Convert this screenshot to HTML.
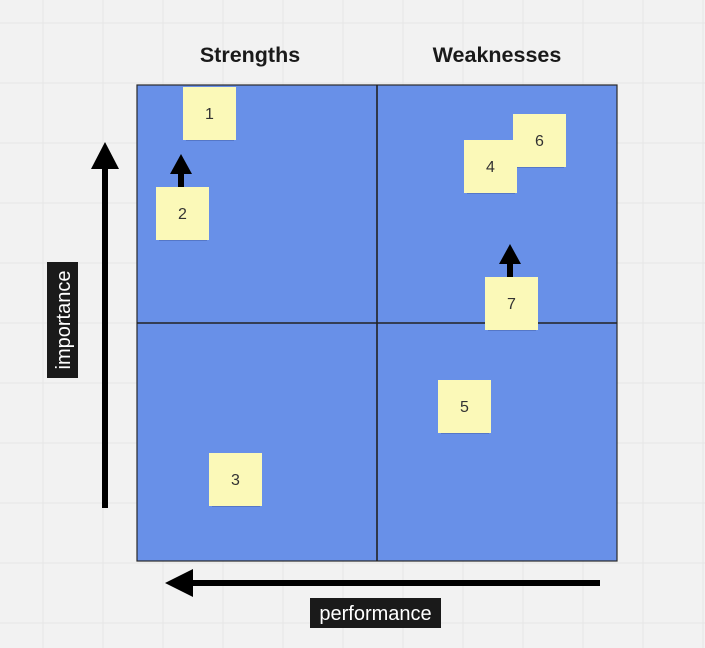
<!DOCTYPE html>
<html><head><meta charset="utf-8"><style>
html,body{margin:0;padding:0;width:705px;height:648px;overflow:hidden;background:#f2f2f2}
svg{display:block}
text{font-family:"Liberation Sans","DejaVu Sans",sans-serif}
</style></head><body>
<svg id="board" width="705" height="648" viewBox="0 0 705 648" xmlns="http://www.w3.org/2000/svg">
<g id="grid"></g>
<text x="250" y="62" text-anchor="middle" font-size="21.5" font-weight="bold" fill="#1a1a1a">Strengths</text>
<text x="497" y="62" text-anchor="middle" font-size="21.5" font-weight="bold" fill="#1a1a1a">Weaknesses</text>
<rect x="137" y="85" width="480" height="476" fill="#6890e8" stroke="#2a2a2a" stroke-width="1.2"/>
<line x1="377" y1="85" x2="377" y2="561" stroke="#222" stroke-width="1.6"/>
<line x1="137" y1="323" x2="617" y2="323" stroke="#222" stroke-width="1.6"/>
<g>
<rect x="102" y="166" width="6" height="342" fill="#000"/>
<polygon points="105,142 91,169 119,169" fill="#000"/>
</g>
<g>
<rect x="190" y="580" width="410" height="6" fill="#000"/>
<polygon points="165,583 193,569 193,597" fill="#000"/>
</g>
<g>
<rect x="47" y="262" width="31" height="116" fill="#1a1a1a"/>
<text transform="translate(70,320) rotate(-90)" text-anchor="middle" font-size="20" fill="#fff">importance</text>
</g>
<g>
<rect x="310" y="598" width="131" height="30" fill="#1a1a1a"/>
<text x="375.5" y="620" text-anchor="middle" font-size="20" fill="#fff">performance</text>
</g>
<g id="notes"></g>
</svg>
<script>
const noteLabels=["1","2","3","6","4","7","5"];
const noteX=[183,156,209,513,464,485,438];
const noteY=[87,187,453,114,140,277,380];
const arrowNotes=["2","7"];
const NS="http://www.w3.org/2000/svg";
const grid=document.getElementById('grid');
for(let x=43;x<705;x+=60){const l=document.createElementNS(NS,'line');l.setAttribute('x1',x);l.setAttribute('x2',x);l.setAttribute('y1',0);l.setAttribute('y2',648);l.setAttribute('stroke','#e6e6e6');grid.appendChild(l);}
for(let y=23;y<648;y+=60){const l=document.createElementNS(NS,'line');l.setAttribute('y1',y);l.setAttribute('y2',y);l.setAttribute('x1',0);l.setAttribute('x2',705);l.setAttribute('stroke','#e6e6e6');grid.appendChild(l);}
const notes=document.getElementById('notes');
noteLabels.forEach((lab,i)=>{
  const g=document.createElementNS(NS,'g');
  
  
  const x=noteX[i],y=noteY[i];
  if(arrowNotes.includes(lab)){
    const cx=x+25;
    const s=document.createElementNS(NS,'rect');s.setAttribute('x',cx-3);s.setAttribute('y',y-16);s.setAttribute('width',6);s.setAttribute('height',16);s.setAttribute('fill','#000');g.appendChild(s);
    const p=document.createElementNS(NS,'polygon');p.setAttribute('points',`${cx},${y-33} ${cx-11},${y-13} ${cx+11},${y-13}`);p.setAttribute('fill','#000');g.appendChild(p);
  }
  const sh=document.createElementNS(NS,'rect');sh.setAttribute('x',x+3);sh.setAttribute('y',y+50);sh.setAttribute('width',48);sh.setAttribute('height',4);sh.setAttribute('fill','#4a68b0');sh.setAttribute('opacity','0.6');g.appendChild(sh);
  const r=document.createElementNS(NS,'rect');r.setAttribute('x',x);r.setAttribute('y',y);r.setAttribute('width',53);r.setAttribute('height',53);r.setAttribute('fill','#fbf9b8');g.appendChild(r);
  const t=document.createElementNS(NS,'text');t.setAttribute('x',x+26.5);t.setAttribute('y',y+32);t.setAttribute('text-anchor','middle');t.setAttribute('font-size','16');t.setAttribute('fill','#333');t.textContent=lab;g.appendChild(t);
  notes.appendChild(g);
});
</script>
</body></html>
